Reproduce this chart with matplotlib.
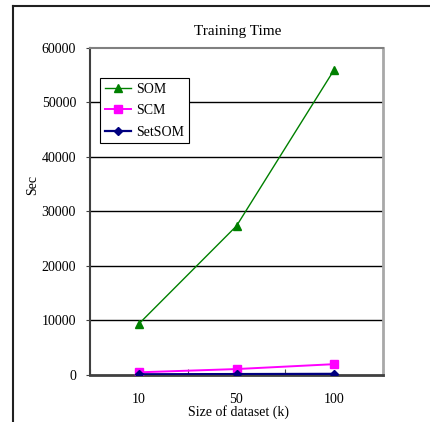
import matplotlib

matplotlib.use("Agg")

import matplotlib.pyplot as plt
from matplotlib.lines import Line2D

plt.rcParams["font.family"] = ["Liberation Serif", "DejaVu Serif"]

# data
sizes = ["10", "50", "100"]
som = [9300, 27300, 56000]
scm = [400, 1000, 1900]
setsom = [40, 80, 120]
y_ticks = [0, 10000, 20000, 30000, 40000, 50000, 60000]

fig = plt.figure(figsize=(4.3, 4.22), dpi=100)
ax = fig.add_axes([90 / 430, 1 - 374.5 / 422, 293 / 430, 326.5 / 422])

xs = [i + 0.5 for i in range(len(sizes))]
ax.plot(xs, som, color="#008000", lw=1.0, marker="^", ms=6, label="SOM", zorder=4)
ax.plot(xs, scm, color="#ff00ff", lw=1.4, marker="s", ms=5.5, label="SCM", zorder=4)
ax.plot(xs, setsom, color="#000080", lw=1.6, marker="D", ms=4.5, label="SetSOM", zorder=4)

ax.set_xlim(0, len(sizes))
ax.set_ylim(0, 60000)

ax.set_xticks(range(len(sizes) + 1))
ax.set_xticklabels([])
ax.set_xticks(xs, minor=True)
ax.set_xticklabels(sizes, minor=True, fontsize=10)
ax.tick_params(axis="x", which="major", direction="in", length=4, color="#505050")
ax.tick_params(axis="x", which="minor", length=0, pad=13)

ax.set_yticks(y_ticks)
ax.set_yticklabels([str(v) for v in y_ticks], fontsize=10)
ax.tick_params(axis="y", direction="out", length=3, pad=7, color="#404040")

for v in y_ticks[1:-1]:
    ax.axhline(v, color="black", lw=1.0, zorder=1)

ax.spines["left"].set_color("#404040")
ax.spines["left"].set_linewidth(1.5)
ax.spines["bottom"].set_color("#404040")
ax.spines["bottom"].set_linewidth(2.0)
ax.spines["top"].set_color("#808080")
ax.spines["top"].set_linewidth(1.5)
ax.spines["right"].set_color("#a8a8a8")
ax.spines["right"].set_linewidth(2.0)

leg = ax.legend(loc="upper left", bbox_to_anchor=(0.034, 0.908), fontsize=10,
                frameon=True, fancybox=False, framealpha=1, edgecolor="black",
                handlelength=1.85, handletextpad=0.4, borderpad=0.35,
                labelspacing=0.6, borderaxespad=0)
leg.get_frame().set_linewidth(0.8)

fig.text(238 / 430, 1 - 31 / 422, "Training Time", ha="center", va="center", fontsize=11)
fig.text(238 / 430, 1 - 412 / 422, "Size of dataset (k)", ha="center", va="center", fontsize=10)
fig.text(33 / 430, 1 - 185 / 422, "Sec", ha="center", va="center", rotation=90, fontsize=10)

# outer frame, only top and left edges visible
fig.add_artist(Line2D([13 / 430, 13 / 430], [0, 1 - 6 / 422], color="#202020", lw=1.5))
fig.add_artist(Line2D([13 / 430, 1], [1 - 6 / 422, 1 - 6 / 422], color="#202020", lw=1.5))

fig.savefig("out.png", dpi=100)
